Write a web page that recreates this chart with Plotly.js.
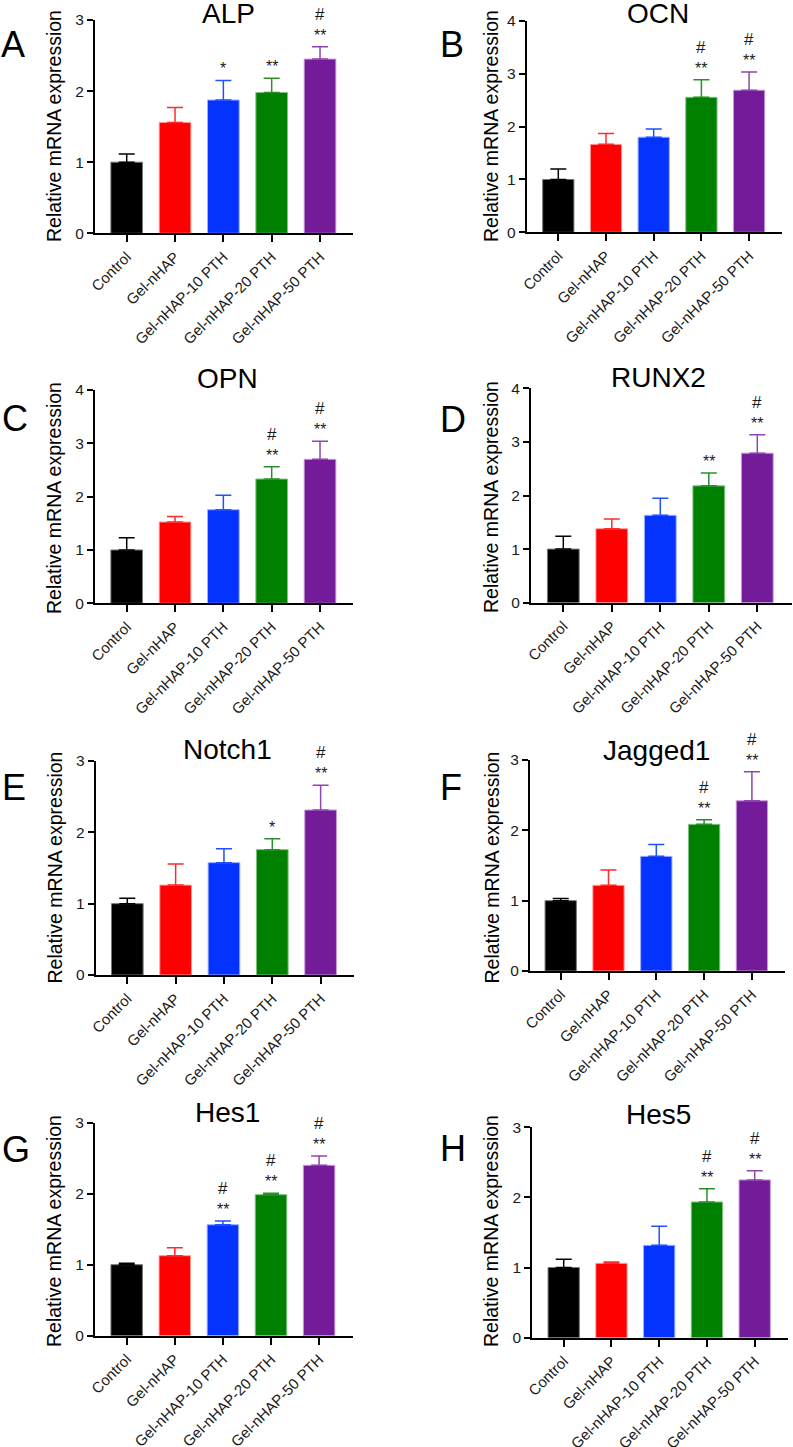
<!DOCTYPE html>
<html><head><meta charset="utf-8">
<script src="https://cdn.plot.ly/plotly-3.0.1.min.js"></script>
<style>html,body{margin:0;padding:0;background:#fff;} #chart{width:793px;height:1447px;}</style>
</head><body><div id="chart"></div>
<script>
// ---------------- DATA ----------------
const categories = ['Control', 'Gel-nHAP', 'Gel-nHAP-10 PTH', 'Gel-nHAP-20 PTH', 'Gel-nHAP-50 PTH'];
const geneNames = ['ALP', 'OCN', 'OPN', 'RUNX2', 'Notch1', 'Jagged1', 'Hes1', 'Hes5'];
const panelLetters = ['A', 'B', 'C', 'D', 'E', 'F', 'G', 'H'];
const yAxisTitle = 'Relative mRNA expression';
const yMaxValues = [3, 4, 4, 4, 3, 3, 3, 3];

const alpMean = [1.00, 1.56, 1.875, 1.98, 2.45];
const alpErr  = [0.115, 0.21, 0.275, 0.20, 0.175];
const alpStars = ['', '', '*', '**', '**'];
const alpHash  = ['', '', '', '', '#'];

const ocnMean = [1.00, 1.665, 1.80, 2.555, 2.69];
const ocnErr  = [0.20, 0.205, 0.155, 0.335, 0.345];
const ocnStars = ['', '', '', '**', '**'];
const ocnHash  = ['', '', '', '#', '#'];

const opnMean = [1.00, 1.525, 1.755, 2.33, 2.70];
const opnErr  = [0.23, 0.105, 0.27, 0.23, 0.34];
const opnStars = ['', '', '', '**', '**'];
const opnHash  = ['', '', '', '#', '#'];

const runx2Mean = [1.00, 1.38, 1.63, 2.18, 2.79];
const runx2Err  = [0.24, 0.18, 0.32, 0.24, 0.345];
const runx2Stars = ['', '', '', '**', '**'];
const runx2Hash  = ['', '', '', '', '#'];

const notch1Mean = [1.00, 1.26, 1.575, 1.757, 2.313];
const notch1Err  = [0.075, 0.296, 0.195, 0.153, 0.347];
const notch1Stars = ['', '', '', '*', '**'];
const notch1Hash  = ['', '', '', '', '#'];

const jagged1Mean = [1.00, 1.218, 1.63, 2.085, 2.42];
const jagged1Err  = [0.03, 0.218, 0.17, 0.065, 0.414];
const jagged1Stars = ['', '', '', '**', '**'];
const jagged1Hash  = ['', '', '', '#', '#'];

const hes1Mean = [1.00, 1.127, 1.563, 1.986, 2.40];
const hes1Err  = [0.02, 0.113, 0.052, 0.019, 0.13];
const hes1Stars = ['', '', '**', '**', '**'];
const hes1Hash  = ['', '', '#', '#', '#'];

const hes5Mean = [1.00, 1.06, 1.317, 1.935, 2.25];
const hes5Err  = [0.12, 0.02, 0.271, 0.19, 0.13];
const hes5Stars = ['', '', '', '**', '**'];
const hes5Hash  = ['', '', '', '#', '#'];

const barColors  = ['#000000', '#FF0000', '#0433FF', '#008000', '#741B9A'];
const edgeColors = ['#777777', '#FF9A9A', '#9AAEFF', '#7FBF7F', '#C59AD6'];
const errColors  = ['#000000', '#FF2A2A', '#2050FF', '#2A8F2A', '#8E45B0'];

const means = [alpMean, ocnMean, opnMean, runx2Mean, notch1Mean, jagged1Mean, hes1Mean, hes5Mean];
const errs  = [alpErr, ocnErr, opnErr, runx2Err, notch1Err, jagged1Err, hes1Err, hes5Err];
const stars = [alpStars, ocnStars, opnStars, runx2Stars, notch1Stars, jagged1Stars, hes1Stars, hes5Stars];
const hashes = [alpHash, ocnHash, opnHash, runx2Hash, notch1Hash, jagged1Hash, hes1Hash, hes5Hash];

// ---------------- LAYOUT GEOMETRY (pixels) ----------------
const W = 793, H = 1447;
const geom = [
  {l: 95,    r: 353,   t: 20,     b: 233.3,  c0: 126.7, sp: 48.33, letter: [13.3, 45],   title: [228, 13],   ytitle: [54, 126]},
  {l: 526.7, r: 781.7, t: 21,     b: 232.3,  c0: 558.3, sp: 47.7,  letter: [451.7, 45],  title: [658, 14],   ytitle: [491, 126]},
  {l: 95,    r: 353,   t: 390,    b: 603.3,  c0: 126.7, sp: 48.33, letter: [14.7, 418],  title: [227, 378],  ytitle: [54, 498]},
  {l: 531,   r: 792,   t: 388.3,  b: 602.7,  c0: 563.3, sp: 48.5,  letter: [453.3, 419], title: [658, 377],  ytitle: [491, 497]},
  {l: 95.7,  r: 354,   t: 761,    b: 975,    c0: 127.3, sp: 48.33, letter: [13.7, 787.5],title: [227, 749],  ytitle: [54, 867.5]},
  {l: 530,   r: 785,   t: 760,    b: 971,    c0: 560.7, sp: 47.8,  letter: [451, 787.5], title: [656.7, 750],ytitle: [491, 867.5]},
  {l: 95,    r: 352.7, t: 1122.7, b: 1335.7, c0: 126.7, sp: 48.1,  letter: [15.8, 1149], title: [227, 1112], ytitle: [54, 1231]},
  {l: 532.3, r: 788,   t: 1127.3, b: 1337.7, c0: 563.7, sp: 47.75, letter: [453.3, 1148],title: [658, 1114], ytitle: [491, 1231]}
];
const barWidth = 0.655;
const FONT = '"Liberation Sans", Arial, Helvetica, sans-serif';

const px = x => x / W;
const py = y => 1 - y / H;

const traces = [];
const annotations = [];
const layout = {
  width: W, height: H,
  margin: {l: 0, r: 0, t: 0, b: 0},
  paper_bgcolor: '#ffffff', plot_bgcolor: 'rgba(0,0,0,0)',
  barmode: 'overlay',
  showlegend: false,
  font: {family: FONT, color: '#1a1a1a'},
  annotations: annotations
};

geneNames.forEach((gene, i) => {
  const g = geom[i];
  const n = i === 0 ? '' : String(i + 1);
  const xa = 'x' + n, ya = 'y' + n;
  const yMax = yMaxValues[i];
  const tickvals = [];
  for (let v = 0; v <= yMax; v++) tickvals.push(v);

  layout['xaxis' + n] = {
    domain: [px(g.l), px(g.r)],
    anchor: ya,
    type: 'category',
    categoryorder: 'array', categoryarray: categories,
    range: [(g.l - g.c0) / g.sp, (g.r - g.c0) / g.sp],
    showline: true, linecolor: '#000', linewidth: 2,
    ticks: 'outside', ticklen: 7, tickwidth: 2, tickcolor: '#000',
    tickangle: -45,
    ticklabeloverflow: 'allow',
    tickfont: {family: FONT, size: 15, color: '#1a1a1a'},
    showgrid: false, zeroline: false, fixedrange: true
  };
  layout['yaxis' + n] = {
    domain: [py(g.b), py(g.t)],
    anchor: xa,
    range: [0, yMax],
    tickvals: tickvals,
    showline: true, linecolor: '#000', linewidth: 2,
    ticks: 'outside', ticklen: 6, tickwidth: 2, tickcolor: '#000',
    tickfont: {family: FONT, size: 15.5, color: '#1a1a1a'},
    showgrid: false, zeroline: false, fixedrange: true
  };

  categories.forEach((cat, j) => {
    traces.push({
      type: 'bar',
      x: [cat], y: [means[i][j]],
      xaxis: xa, yaxis: ya,
      width: [barWidth],
      marker: {color: barColors[j], line: {color: edgeColors[j], width: 1}},
      error_y: {type: 'data', symmetric: false, array: [errs[i][j]], arrayminus: [0],
                color: errColors[j], thickness: 1.5, width: 8},
      hoverinfo: 'skip', showlegend: false
    });
    const top = means[i][j] + errs[i][j];
    if (stars[i][j]) {
      annotations.push({xref: xa, yref: ya, x: cat, y: top, text: stars[i][j],
        showarrow: false, yanchor: 'bottom', xanchor: 'center', yshift: 1,
        font: {family: FONT, size: 16, color: '#1a1a1a'}});
    }
    if (hashes[i][j]) {
      annotations.push({xref: xa, yref: ya, x: cat, y: top, text: hashes[i][j],
        showarrow: false, yanchor: 'bottom', xanchor: 'center', yshift: 21,
        font: {family: FONT, size: 17, color: '#1a1a1a'}});
    }
  });

  // chart title
  annotations.push({xref: 'paper', yref: 'paper', x: px(g.title[0]), y: py(g.title[1]),
    text: gene, showarrow: false, xanchor: 'center', yanchor: 'middle',
    font: {family: FONT, size: 28, color: '#000'}});
  // panel letter
  annotations.push({xref: 'paper', yref: 'paper', x: px(g.letter[0]), y: py(g.letter[1]),
    text: panelLetters[i], showarrow: false, xanchor: 'center', yanchor: 'middle',
    font: {family: FONT, size: 36, color: '#000'}});
  // y-axis title
  annotations.push({xref: 'paper', yref: 'paper', x: px(g.ytitle[0]), y: py(g.ytitle[1]),
    text: yAxisTitle, showarrow: false, xanchor: 'center', yanchor: 'middle', textangle: -90,
    font: {family: FONT, size: 19.5, color: '#000'}});
});

Plotly.newPlot('chart', traces, layout, {displayModeBar: false, staticPlot: true});
</script>
</body></html>
